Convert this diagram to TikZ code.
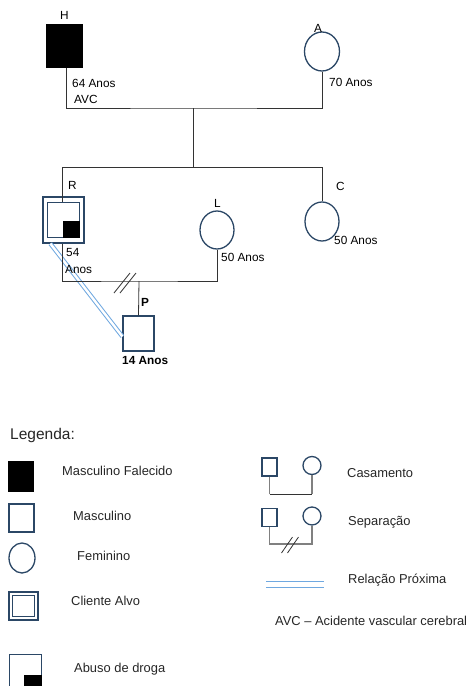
\documentclass[tikz,border=0pt]{standalone}
\usepackage{fontspec}
\setmainfont{Liberation Sans}
\usepackage{tikz}
\usetikzlibrary{positioning, calc, shapes.geometric}
\definecolor{genazul}{HTML}{2B4766}
\definecolor{genlinha}{HTML}{333333}
\definecolor{gencinza}{HTML}{808080}
\definecolor{genclaro}{HTML}{6FA8E0}
\tikzset{
  masc/.style={draw=genazul, line width=1.3pt, fill=white, inner sep=0pt, minimum width=31pt, minimum height=35pt},
  falecido/.style={masc, draw=black, fill=black},
  fem/.style={ellipse, draw=genazul, line width=1.3pt, fill=white, inner sep=0pt, minimum width=34pt, minimum height=38pt},
  droga/.style={draw=black, fill=black, inner sep=0pt},
  linha/.style={line width=0.8pt, color=genlinha},
  linhalg/.style={line width=1.3pt, color=gencinza},
  proxima/.style={draw=genclaro, line width=1pt, double=white, double distance=2.4pt},
  rotulo/.style={font=\fontsize{11.8}{13}\selectfont, inner sep=0pt, anchor=west},
  legtxt/.style={font=\fontsize{12.9}{14}\selectfont, inner sep=0pt, anchor=west, color=black!85},
}

\begin{document}
\begin{tikzpicture}[x=1pt, y=-1pt]
  \useasboundingbox (0,0) rectangle (467,686);
  % geracao 1
  \node[falecido, minimum width=35pt, minimum height=42pt] (H) at (64.5,46) {};
  \node[fem, minimum width=35pt, minimum height=39pt] (A) at (322,51.5) {};
  \node[rotulo, anchor=south] at (H.north) [yshift=5pt] {H};
  \node[rotulo, anchor=south] at (318,33) {A};
  \node[rotulo] at (72,83) {64 Anos};
  \node[rotulo] at (74,99) {AVC};
  \node[rotulo] at (329,82) {70 Anos};
  \coordinate (casal1) at (193,108);
  \coordinate (filhos) at (193,167);
  \draw[linha] ([xshift=1.5pt]H.south) |- (casal1) -| (A.south);
  \draw[linha] (casal1) -- (filhos);
  % geracao 2
  \node[masc, minimum width=41pt, minimum height=46pt] (R) at (63.5,220) {};
  \node[masc, minimum width=32pt, minimum height=34.5pt] (Ri) at (R.center) {};
  \node[droga, minimum width=16pt, minimum height=16pt, anchor=south east] (Rd) at ([shift={(-0.6pt,0.6pt)}]Ri.south east) {};
  \node[fem] (L) at (217,230) {};
  \node[fem, minimum height=39pt] (C) at (322,221.5) {};
  \node[masc] (P) at (138.5,333.5) {};
  \draw[proxima] ([xshift=8pt]R.south west) -- ([yshift=-3pt]P.west);
  \node[rotulo] at (68,185) {R};
  \node[rotulo] at (214,203) {L};
  \node[rotulo] at (336,186) {C};
  \node[rotulo] at (66,252) {54};
  \node[rotulo] at (65,269) {Anos};
  \node[rotulo] at (221,257) {50 Anos};
  \node[rotulo] at (334,240) {50 Anos};
  \draw[linha] (filhos) -| ([xshift=-1.5pt]Ri.north);
  \draw[linha] (filhos) -| (C.north);
  % geracao 3
  \node[rotulo, font=\fontsize{11.8}{13}\selectfont\bfseries] at (141,302) {P};
  \node[rotulo, font=\fontsize{11.8}{13}\selectfont\bfseries] at (122,360) {14 Anos};
  \coordinate (casal2) at (139,281);
  \coordinate (sep) at (125,283);
  \draw[linha] ([xshift=-1.5pt]R.south) |- (casal2) -| (L.south);
  \draw[linha] (casal2) -- (P.north);
  \foreach \d in {-3,3}
    \draw[linha] ($(sep)+(\d-8,10)$) -- ($(sep)+(\d+8,-10)$);
  % legenda
  \node[legtxt, font=\fontsize{15.5}{17}\selectfont] at (10,435) {Legenda:};
  \node[falecido, minimum width=24pt, minimum height=29pt] (lgH) at (21,476.5) {};
  \node[masc, minimum width=25pt, minimum height=28pt] (lgM) at (21.5,518) {};
  \node[fem, minimum width=26pt, minimum height=30pt] (lgF) at (22,558) {};
  \node[masc, minimum width=29pt, minimum height=28pt] (lgR) at (23.5,606) {};
  \node[masc, minimum width=22pt, minimum height=21pt] (lgRi) at (lgR.center) {};
  \node[masc, minimum width=32pt, minimum height=40pt, anchor=north west] (lgD) at (9,654) {};
  \node[droga, minimum width=17pt, minimum height=14pt, anchor=north east] (lgDd) at ([xshift=-0.65pt]lgD.east) {};
  \node[legtxt] at (62,471) {Masculino Falecido};
  \node[legtxt] at (73,516) {Masculino};
  \node[legtxt] at (77,556) {Feminino};
  \node[legtxt] at (71,601) {Cliente Alvo};
  \node[legtxt] at (74,669) {Abuso de droga};
  % casamento e separacao
  \node[masc, minimum width=15pt, minimum height=18pt] (lgC1) at (269.5,467) {};
  \node[fem, circle, minimum size=18pt] (lgC2) at (312,465.5) {};
  \node[masc, minimum width=15pt, minimum height=18pt] (lgS1) at (269.5,517.5) {};
  \node[fem, circle, minimum size=18pt] (lgS2) at (312,516) {};
  \coordinate (lgcas) at (290,494);
  \coordinate (lgsep) at (290,544);
  \draw[linhalg] (lgC1.south) -- (lgC1.south |- lgcas);
  \draw[linhalg] (lgC2.south) -- (lgC2.south |- lgcas);
  \draw[linha] (lgC1.south |- lgcas) -- (lgC2.south |- lgcas);
  \draw[linhalg] (lgS1.south) |- (lgsep) -| (lgS2.south);
  \foreach \d in {-3,3}
    \draw[linha] ($(lgsep)+(\d-5.5,9)$) -- ($(lgsep)+(\d+5.5,-7)$);
  \coordinate (lgp1) at (266,584.5);
  \coordinate (lgp2) at (324,584.5);
  \draw[proxima, double distance=5pt, line width=1.3pt] (lgp1) -- (lgp2);
  \node[legtxt] at (347,473) {Casamento};
  \node[legtxt] at (348,522) {Separação};
  \node[legtxt] at (348,580) {Relação Próxima};
  \node[legtxt] at (275,621) {AVC – Acidente vascular cerebral};
\end{tikzpicture}
\end{document}
